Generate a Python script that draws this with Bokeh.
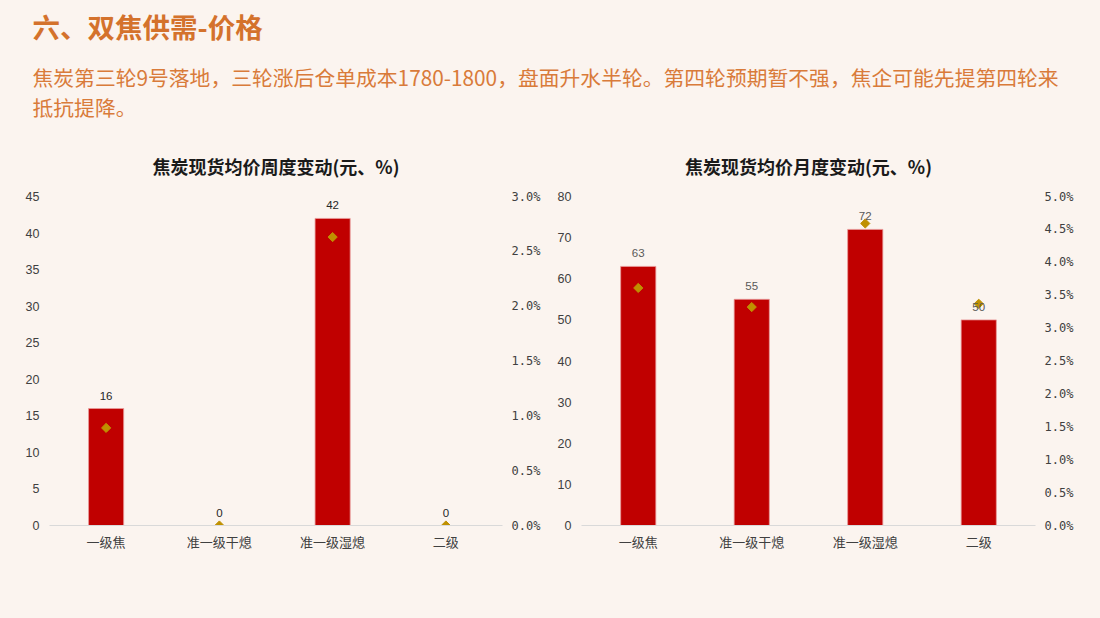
from bokeh.plotting import figure
from bokeh.models import (ColumnDataSource, FactorRange, Range1d, LinearAxis,
                          FixedTicker, PrintfTickFormatter, LabelSet)
from bokeh.layouts import column, row
from bokeh.core.properties import value
from bokeh.embed import file_html
from bokeh.resources import INLINE
import math
import re

# ---------------- data ----------------
page_title = "六、双焦供需-价格"
summary_lines = [
    "焦炭第三轮9号落地，三轮涨后仓单成本1780-1800，盘面升水半轮。第四轮预期暂不强，焦企可能先提第四轮来",
    "抵抗提降。",
]

categories = ["一级焦", "准一级干熄", "准一级湿熄", "二级"]

weekly_title = "焦炭现货均价周度变动(元、%)"
weekly_change = [16, 0, 42, 0]
weekly_pct = [0.89, 0.0, 2.63, 0.0]
weekly_left_ticks = [0, 5, 10, 15, 20, 25, 30, 35, 40, 45]
weekly_right_ticks = [0.0, 0.5, 1.0, 1.5, 2.0, 2.5, 3.0]

monthly_title = "焦炭现货均价月度变动(元、%)"
monthly_change = [63, 55, 72, 50]
monthly_pct = [3.61, 3.32, 4.59, 3.37]
monthly_left_ticks = [0, 10, 20, 30, 40, 50, 60, 70, 80]
monthly_right_ticks = [0.0, 0.5, 1.0, 1.5, 2.0, 2.5, 3.0, 3.5, 4.0, 4.5, 5.0]

# ---------------- style ----------------
BG = "#FBF4EF"
BAR = "#C00000"
DIAMOND = "#BF9000"
CJK = "Noto Sans CJK SC"
HEADER_H = 132
CHART_H = 618 - HEADER_H
TOP = 64
FRAME_H = 329

# ---------------- header ----------------
header = figure(width=1100, height=HEADER_H, x_range=Range1d(0, 1100), y_range=Range1d(HEADER_H, 0),
                x_axis_type=None, y_axis_type=None, toolbar_location=None,
                output_backend="svg", min_border=0)
header.background_fill_color = BG
header.border_fill_color = BG
header.outline_line_color = None
header.grid.visible = False
header.text(x=[32], y=[25], text=[page_title], text_font=value(CJK), text_font_style="bold",
            text_font_size="27.5px", text_color="#D4722C", text_baseline="middle", text_align="left")
header.text(x=[32, 32], y=[76, 106], text=summary_lines, text_font=value(CJK),
            text_font_size="20.8px", text_color="#D97B3A", text_baseline="middle", text_align="left")


def make_chart(title, vals, pcts, lticks, rticks, border_left, frame_w, label_color):
    p = figure(width=550, height=CHART_H, x_range=FactorRange(*categories, range_padding=0),
               y_range=Range1d(lticks[0], lticks[-1]), toolbar_location=None,
               output_backend="svg", min_border_left=border_left,
               min_border_right=550 - border_left - frame_w,
               min_border_top=TOP, min_border_bottom=CHART_H - TOP - FRAME_H)
    p.background_fill_color = BG
    p.border_fill_color = BG
    p.outline_line_color = None
    p.grid.visible = False

    p.title.text = title
    p.title.align = "center"
    p.title.text_font = CJK
    p.title.text_font_style = "bold"
    p.title.text_font_size = "18px"
    p.title.text_color = "#1A1A1A"
    p.title.standoff = 36
    p.title.offset = 6

    p.extra_y_ranges = {"pct": Range1d(rticks[0], rticks[-1])}

    src = ColumnDataSource(dict(cat=categories, val=vals, pct=pcts,
                                lab=[str(v) for v in vals]))
    p.vbar(x="cat", top="val", width=0.31, source=src, fill_color=BAR,
           line_color="#E99A9A", line_width=0.8)
    p.scatter(x="cat", y="pct", source=src, y_range_name="pct", marker="square",
              size=6.5, angle=math.pi / 4, fill_color=DIAMOND, line_color=DIAMOND)
    labels = LabelSet(x="cat", y="val", text="lab", source=src, y_offset=13,
                      text_align="center", text_baseline="middle",
                      text_font_size=value("11.5px"), text_color=value(label_color),
                      text_font=value("Liberation Sans"))
    p.add_layout(labels)

    # left axis
    ya = p.yaxis[0]
    ya.ticker = FixedTicker(ticks=lticks)
    ya.axis_line_color = None
    ya.major_tick_line_color = None
    ya.minor_tick_line_color = None
    ya.major_tick_out = 0
    ya.major_tick_in = 0
    ya.major_label_standoff = 10
    ya.major_label_text_font = "Liberation Sans"
    ya.major_label_text_font_size = "12.5px"
    ya.major_label_text_color = "#404040"

    # right axis
    ra = LinearAxis(y_range_name="pct", ticker=FixedTicker(ticks=rticks),
                    formatter=PrintfTickFormatter(format="%.1f%%"))
    ra.axis_line_color = None
    ra.major_tick_line_color = None
    ra.minor_tick_line_color = None
    ra.major_tick_out = 0
    ra.major_tick_in = 0
    ra.major_label_standoff = 9
    ra.major_label_text_font = "DejaVu Sans Mono"
    ra.major_label_text_font_size = "12px"
    ra.major_label_text_color = "#404040"
    p.add_layout(ra, "right")

    # bottom axis
    xa = p.xaxis[0]
    xa.axis_line_color = "#D9D9D9"
    xa.axis_line_width = 1
    xa.major_tick_line_color = None
    xa.minor_tick_line_color = None
    xa.major_tick_out = 0
    xa.major_tick_in = 0
    xa.major_label_standoff = 6
    xa.major_label_text_font = CJK
    xa.major_label_text_font_size = "13px"
    xa.major_label_text_color = "#404040"
    return p


left = make_chart(weekly_title, weekly_change, weekly_pct, weekly_left_ticks,
                  weekly_right_ticks, 49, 453, "#262626")
right = make_chart(monthly_title, monthly_change, monthly_pct, monthly_left_ticks,
                   monthly_right_ticks, 31, 454, "#595959")

layout = column(header, row(left, right, spacing=0), spacing=0)
layout.styles = {"background-color": BG}

html = file_html(layout, INLINE, title="双焦供需-价格")
html = re.sub(r"<body([^>]*)>", r'<body\1 style="background-color:%s;">' % BG, html, count=1)
open("out.html", "w").write(html)
